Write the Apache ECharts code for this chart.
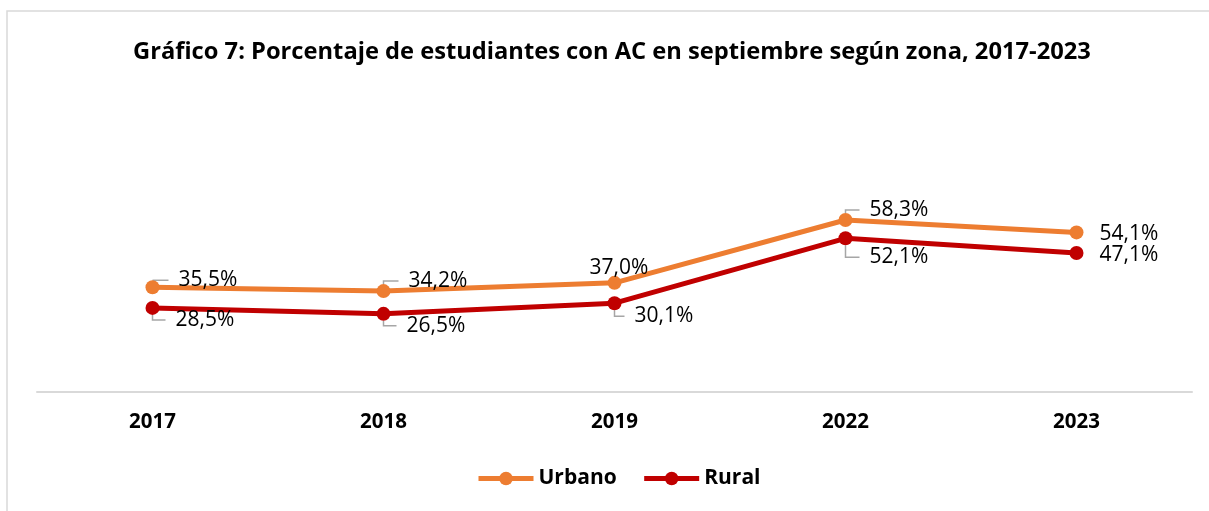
<!DOCTYPE html>
<html>
<head>
<meta charset="utf-8">
<script src="https://cdn.jsdelivr.net/npm/echarts@6/dist/echarts.min.js"></script>
<style>
html,body{margin:0;padding:0;background:#fff;}
#c{width:1209px;height:511px;}
</style>
</head>
<body>
<div id="c"></div>
<script>
const categories = ['2017', '2018', '2019', '2022', '2023'];
const urbano = [35.5, 34.2, 37.0, 58.3, 54.1];
const rural = [28.5, 26.5, 30.1, 52.1, 47.1];
const seriesNames = ['Urbano', 'Rural'];
const titleText = 'Gráfico 7: Porcentaje de estudiantes con AC en septiembre según zona, 2017-2023';

// label placement (style only): [text left offset from point, vertical offset, show leader line]
const labelPlacement = [
  [[26, -7, true], [25, -10, true], [-25, -15, false], [24, -10, true], [23, 2, false]],
  [[23, 12, true], [23, 12, true], [20, 13, true], [24, 19, true], [23, 2, false]]
];
const SYMBOL = 14;
const PAD = 10;

const fmt = p => p.value.toFixed(1).replace('.', ',') + '%';
const FONT = '"Open Sans", sans-serif';

function mkSeries(name, values, color, si) {
  const data = values.map((v, i) => {
    const pl = labelPlacement[si][i];
    return {
      value: v,
      labelLine: { show: pl[2], length2: Math.max(pl[0] - PAD, 0) }
    };
  });
  return {
    name: name,
    type: 'line',
    data: data,
    symbol: 'circle',
    symbolSize: SYMBOL,
    lineStyle: { color: color, width: 5 },
    itemStyle: { color: color },
    label: {
      show: true,
      position: 'right',
      distance: 0,
      formatter: fmt,
      fontFamily: FONT,
      fontSize: 21,
      color: '#000',
      padding: [0, 0, 0, PAD],
      backgroundColor: 'rgba(255,255,255,0)'
    },
    labelLine: {
      show: true,
      lineStyle: { color: '#a6a6a6', width: 1.5 }
    },
    labelLayout: function (p) {
      const pl = labelPlacement[si][p.dataIndex];
      return { dx: pl[0] - PAD - SYMBOL / 2, dy: pl[1] };
    },
    emphasis: { disabled: true },
    animation: false,
    z: 3 - si
  };
}

const chart = echarts.init(document.getElementById('c'), null, { renderer: 'canvas' });
chart.setOption({
  backgroundColor: '#fff',
  animation: false,
  title: {
    text: titleText,
    left: 128,
    top: 35,
    textStyle: { fontFamily: FONT, fontWeight: 'bold', fontSize: 23.7, color: '#000' }
  },
  legend: {
    data: seriesNames,
    left: 476,
    top: 468,
    padding: 0,
    itemWidth: 55,
    itemHeight: 17,
    itemGap: 25,
    lineStyle: { width: 5 },
    textStyle: { fontFamily: FONT, fontWeight: 'bold', fontSize: 21, color: '#000' }
  },
  grid: { left: 37, right: 17, top: 156, bottom: 119, containLabel: false },
  xAxis: {
    type: 'category',
    data: categories,
    boundaryGap: true,
    axisLine: { show: true, lineStyle: { color: '#d9d9d9', width: 2 } },
    axisTick: { show: false },
    axisLabel: { margin: 20, fontFamily: FONT, fontWeight: 'bold', fontSize: 20.5, color: '#000' },
    splitLine: { show: false }
  },
  yAxis: {
    type: 'value',
    min: 0,
    max: 80,
    show: false,
    splitLine: { show: false }
  },
  graphic: [{
    type: 'rect',
    shape: { x: 7, y: 11, width: 1400, height: 700 },
    style: { fill: null, stroke: '#d9d9d9', lineWidth: 1.5 },
    silent: true,
    z: -1
  }],
  series: [
    mkSeries(seriesNames[0], urbano, '#ED7D31', 0),
    mkSeries(seriesNames[1], rural, '#C00000', 1)
  ]
});
</script>
</body>
</html>
